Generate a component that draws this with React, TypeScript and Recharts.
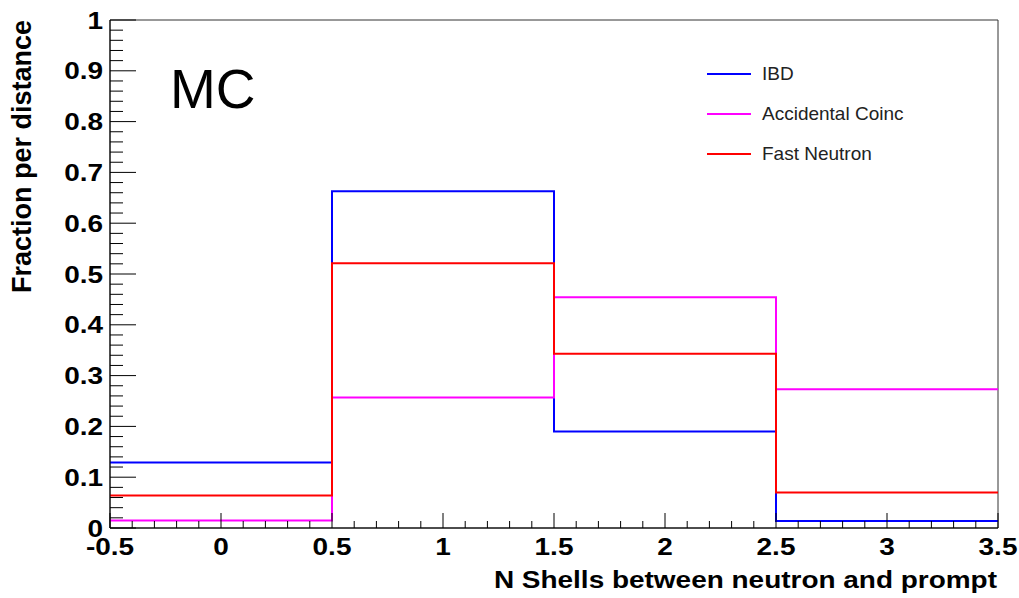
import React from 'react';
import { LineChart, Line, XAxis, YAxis, Legend, ReferenceArea } from 'recharts';

const binEdges = [-0.5, 0.5, 1.5, 2.5, 3.5];
const ibd = [0.129, 0.663, 0.19, 0.014];
const accidental = [0.0146, 0.257, 0.454, 0.273];
const fastNeutron = [0.064, 0.521, 0.343, 0.07];

const seriesNames = ['IBD', 'Accidental Coinc', 'Fast Neutron'];
const seriesKeys = ['ibd', 'acc', 'fn'];
const seriesColors = ['#0000ff', '#ff00ff', '#ff0000'];

const xMajorTicks = [-0.5, 0, 0.5, 1, 1.5, 2, 2.5, 3, 3.5];
const yMajorTicks = [0, 0.1, 0.2, 0.3, 0.4, 0.5, 0.6, 0.7, 0.8, 0.9, 1];

const FONT = '"Liberation Sans", Arial, Helvetica, sans-serif';

// histogram rows: each edge carries the value of the bin that starts there
const rows = binEdges.map((edge, i) => {
  const b = Math.min(i, ibd.length - 1);
  return { x: edge, ibd: ibd[b], acc: accidental[b], fn: fastNeutron[b] };
});

// minor ticks: 5 subdivisions per major interval
const subdivide = (major: number[], n: number) => {
  const out: number[] = [];
  for (let i = 0; i < major.length - 1; i++) {
    const step = (major[i + 1] - major[i]) / n;
    for (let k = 0; k < n; k++) out.push(+(major[i] + k * step).toFixed(4));
  }
  out.push(major[major.length - 1]);
  return out;
};
const xTicks = subdivide(xMajorTicks, 5);
const yTicks = subdivide(yMajorTicks, 5);

const isMajor = (v: number, major: number[]) => major.some((m) => Math.abs(m - v) < 1e-6);
const fmt = (v: number) => String(Math.round(v * 10) / 10);

const XTick = (props: any) => {
  const { x, y, payload } = props;
  const major = isMajor(payload.value, xMajorTicks);
  return (
    <g>
      <line x1={x} x2={x} y1={y} y2={y - (major ? 15 : 7)} stroke="#000" strokeWidth={1} />
      {major && (
        <text
          transform={`translate(${x},${y + 27}) scale(1.19,1)`}
          textAnchor="middle"
          fontFamily={FONT}
          fontWeight="bold"
          fontSize={23.5}
          fill="#000"
        >
          {fmt(payload.value)}
        </text>
      )}
    </g>
  );
};

const YTick = (props: any) => {
  const { x, y, payload } = props;
  const major = isMajor(payload.value, yMajorTicks);
  return (
    <g>
      <line x1={x} x2={x + (major ? 26 : 13)} y1={y} y2={y} stroke="#000" strokeWidth={1} />
      {major && (
        <text
          transform={`translate(${x - 7},${y + 8.5}) scale(1.19,1)`}
          textAnchor="end"
          fontFamily={FONT}
          fontWeight="bold"
          fontSize={23.5}
          fill="#000"
        >
          {fmt(payload.value)}
        </text>
      )}
    </g>
  );
};

const renderLegend = () => (
  <div style={{ fontFamily: FONT, fontSize: 19, color: '#222' }}>
    {seriesNames.map((name, i) => (
      <div key={name} style={{ display: 'flex', alignItems: 'center', height: 40 }}>
        <div style={{ width: 44, height: 2, background: seriesColors[i], marginRight: 11 }} />
        <span>{name}</span>
      </div>
    ))}
  </div>
);

export default function App() {
  return (
    <div style={{ position: 'absolute', left: 0, top: 0, width: 1019, height: 598, background: '#fff' }}>
      <LineChart width={1019} height={598} data={rows} margin={{ top: 20, right: 21, left: 0, bottom: 0 }}>
        <XAxis
          dataKey="x"
          type="number"
          domain={[-0.5, 3.5]}
          ticks={xTicks}
          interval={0}
          allowDataOverflow
          height={70}
          tickSize={0}
          tickMargin={0}
          tickLine={false}
          tick={<XTick />}
          axisLine={{ stroke: '#000', strokeWidth: 1 }}
          label={{
            content: () => (
              <text
                transform="translate(997,588) scale(1.19,1)"
                textAnchor="end"
                fontFamily={FONT}
                fontWeight="bold"
                fontSize={23.5}
                fill="#000"
              >
                N Shells between neutron and prompt
              </text>
            ),
          }}
        />
        <YAxis
          type="number"
          domain={[0, 1]}
          ticks={yTicks}
          interval={0}
          allowDataOverflow
          width={110}
          tickSize={0}
          tickMargin={0}
          tickLine={false}
          tick={<YTick />}
          axisLine={{ stroke: '#000', strokeWidth: 1 }}
          label={{
            content: () => (
              <text
                transform="translate(31,20) rotate(-90)"
                textAnchor="end"
                fontFamily={FONT}
                fontWeight="bold"
                fontSize={27}
                fill="#000"
              >
                Fraction per distance
              </text>
            ),
          }}
        />
        <ReferenceArea x1={-0.5} x2={3.5} y1={0} y2={1} fill="none" stroke="#333" strokeWidth={1} />
        <Legend
          layout="vertical"
          align="center"
          verticalAlign="middle"
          wrapperStyle={{ left: 707, top: 54, width: 260 }}
          content={renderLegend}
        />
        {seriesKeys.map((key, i) => (
          <Line
            key={key}
            type="stepAfter"
            dataKey={key}
            name={seriesNames[i]}
            stroke={seriesColors[i]}
            strokeWidth={2}
            dot={false}
            isAnimationActive={false}
          />
        ))}
      </LineChart>
      <div
        style={{
          position: 'absolute',
          left: 170,
          top: 58,
          fontFamily: FONT,
          fontSize: 55,
          lineHeight: '62px',
          color: '#000',
        }}
      >
        MC
      </div>
    </div>
  );
}
